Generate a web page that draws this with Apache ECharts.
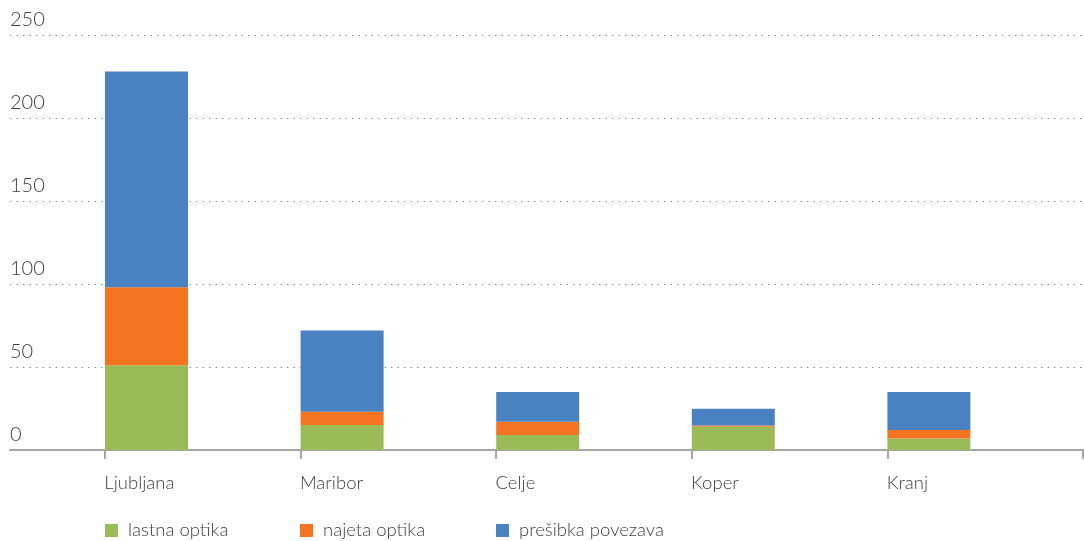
<!DOCTYPE html>
<html lang="sl">
<head>
    <meta charset="UTF-8">
    <title>Optika po mestih</title>
    <script src="https://cdn.jsdelivr.net/npm/echarts@6/dist/echarts.min.js"></script>
    <style>
        html, body { margin: 0; padding: 0; background: #fff; }
        #chart { width: 1084px; height: 541px; }
    </style>
</head>
<body>
<div id="chart"></div>
<script>
    // data
    var cities = ['Ljubljana', 'Maribor', 'Celje', 'Koper', 'Kranj'];
    var lastnaOptika = [51, 15, 9, 14, 7];
    var najetaOptika = [47, 8, 8, 0.8, 5];
    var presibkaPovezava = [130, 49, 18, 10, 23];
    var yTicks = [0, 50, 100, 150, 200, 250];

    var seriesNames = ['lastna optika', 'najeta optika', 'prešibka povezava'];
    var colors = ['#9BBB59', '#F47521', '#4A82C1'];

    var font = 'Lato, "Open Sans", sans-serif';
    var textColor = '#404040';
    var gridLine = { color: '#8c8c8c', width: 1.2, type: [1.5, 5] };
    var axisGrey = '#a6a6a6';

    var chart = echarts.init(document.getElementById('chart'));

    function barSeries(name, data, color) {
        return {
            name: name,
            type: 'bar',
            stack: 'total',
            data: data,
            barWidth: 83,
            barGap: '35.66%',
            itemStyle: { color: color },
            xAxisIndex: 0,
            yAxisIndex: 0
        };
    }

    function legendFor(i, left) {
        return {
            data: [seriesNames[i]],
            left: left,
            top: 521,
            padding: 0,
            icon: 'rect',
            itemWidth: 13,
            itemHeight: 13,
            selectedMode: false,
            textStyle: { fontFamily: font, fontWeight: 300, fontSize: 18.5, color: textColor, padding: [0, 0, 0, 5] }
        };
    }

    chart.setOption({
        animation: false,
        grid: [
            { left: 105, right: 1, top: 35, bottom: 91 },
            { left: 10, width: 95, top: 35, bottom: 91 }
        ],
        legend: [legendFor(0, 105), legendFor(1, 300), legendFor(2, 496)],
        xAxis: [
            {
                type: 'category',
                data: cities,
                gridIndex: 0,
                boundaryGap: true,
                axisLine: { lineStyle: { color: axisGrey, width: 2 } },
                axisTick: { show: true, interval: 0, length: 9, lineStyle: { color: axisGrey, width: 2 } },
                axisLabel: {
                    interval: 0,
                    margin: 24,
                    formatter: function (v) { return '{a|' + v + '}'; },
                    rich: {
                        a: { width: 197, align: 'left', fontFamily: font, fontWeight: 300, fontSize: 18.5, color: textColor }
                    }
                }
            },
            {
                type: 'value',
                gridIndex: 1,
                min: 0,
                max: 1,
                axisLine: { show: true, onZero: false, lineStyle: { color: axisGrey, width: 2 } },
                axisTick: { show: false },
                axisLabel: { show: false },
                splitLine: { show: false }
            }
        ],
        yAxis: [
            {
                type: 'value',
                gridIndex: 0,
                min: yTicks[0],
                max: yTicks[yTicks.length - 1],
                interval: 50,
                axisLine: { show: false },
                axisTick: { show: false },
                axisLabel: { show: false },
                splitLine: { lineStyle: gridLine }
            },
            {
                type: 'value',
                gridIndex: 1,
                min: yTicks[0],
                max: yTicks[yTicks.length - 1],
                interval: 50,
                axisLine: { show: false },
                axisTick: { show: false },
                axisLabel: {
                    inside: true,
                    margin: 0,
                    verticalAlign: 'bottom',
                    padding: [0, 0, 5, 0],
                    fontFamily: font,
                    fontWeight: 300,
                    fontSize: 20,
                    color: textColor
                },
                splitLine: { lineStyle: gridLine }
            }
        ],
        series: [
            barSeries(seriesNames[0], lastnaOptika, colors[0]),
            barSeries(seriesNames[1], najetaOptika, colors[1]),
            barSeries(seriesNames[2], presibkaPovezava, colors[2]),
            // empty second stack, only there so the real bars sit at the left of each category
            {
                name: 'spacer',
                type: 'bar',
                stack: 'spacer',
                data: [],
                barWidth: 83,
                barGap: '35.66%',
                silent: true
            }
        ]
    });
</script>
</body>
</html>
